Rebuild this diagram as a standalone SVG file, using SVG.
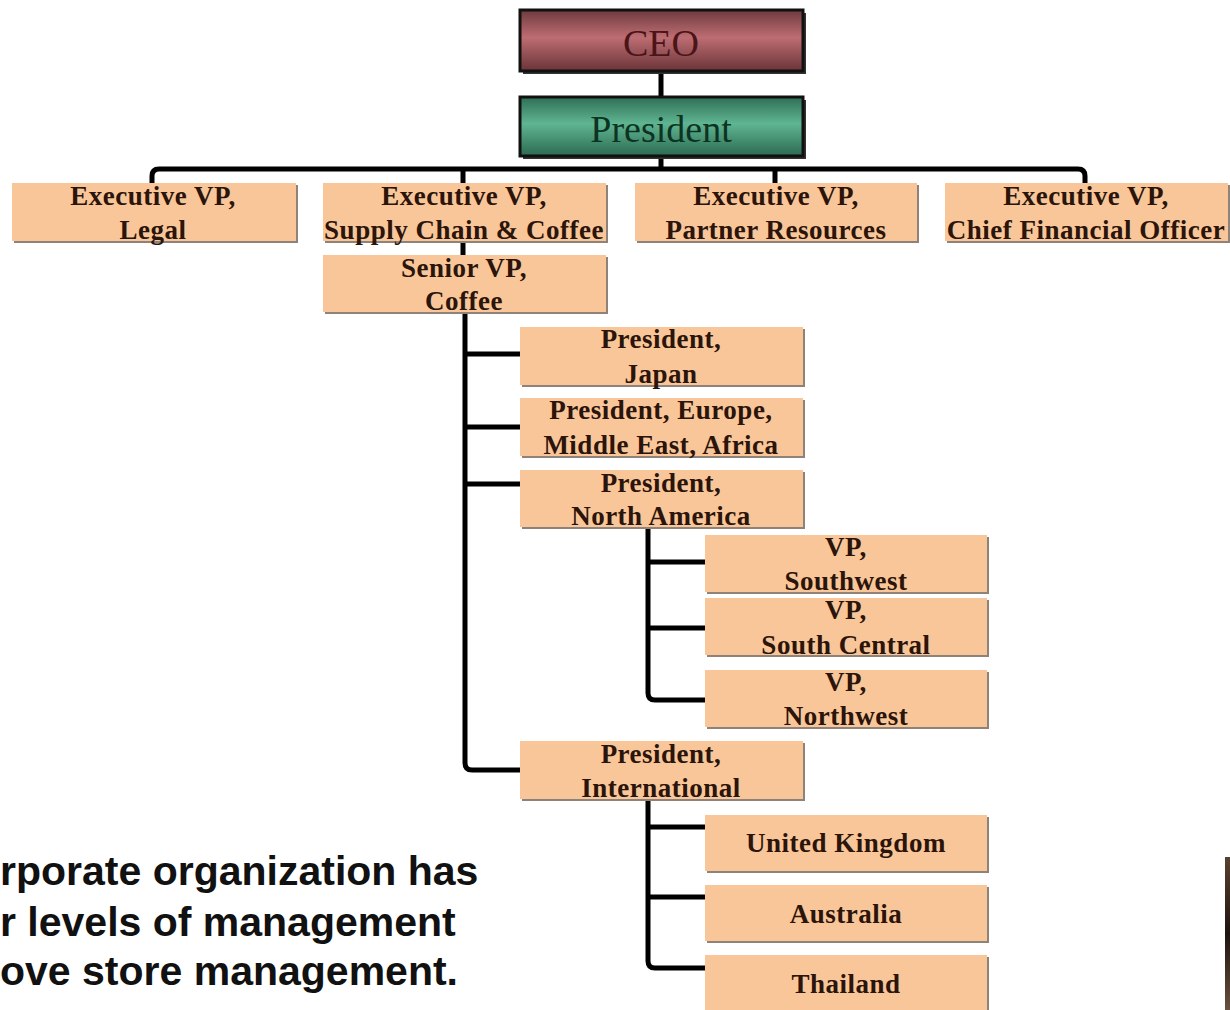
<svg xmlns="http://www.w3.org/2000/svg" width="1230" height="1010" viewBox="0 0 1230 1010">
  <defs>
    <linearGradient id="gradCeo" x1="0" y1="0" x2="0" y2="1">
      <stop offset="0" stop-color="#6e3a3e"/>
      <stop offset="0.45" stop-color="#bd6d72"/>
      <stop offset="1" stop-color="#6a3438"/>
    </linearGradient>
    <linearGradient id="gradPres" x1="0" y1="0" x2="0" y2="1">
      <stop offset="0" stop-color="#2f6e55"/>
      <stop offset="0.45" stop-color="#5fb592"/>
      <stop offset="1" stop-color="#2c6a51"/>
    </linearGradient>
    <linearGradient id="gradEdge" x1="0" y1="0" x2="0" y2="1">
      <stop offset="0" stop-color="#5a4030"/>
      <stop offset="0.5" stop-color="#1e140e"/>
      <stop offset="1" stop-color="#6a5040"/>
    </linearGradient>
  </defs>
  <style>
    .shadow { fill: #8f8279; }
    .box { fill: #f9c699; }
    .lbl { font-family: "Liberation Serif", "Times New Roman", serif; font-weight: bold; font-size: 27px; letter-spacing: 0.5px; fill: #2b1409; text-anchor: middle; }
    .top { font-family: "Liberation Serif", "Times New Roman", serif; font-size: 38px; text-anchor: middle; }
    .wire { fill: none; stroke: #000; stroke-width: 5; stroke-linejoin: round; }
    .note { font-family: "Liberation Sans", Arial, sans-serif; font-weight: bold; font-size: 41px; fill: #111; }
  </style>

  <rect width="1230" height="1010" fill="#ffffff"/>

  <!-- connectors -->
  <g id="connectors">
    <path class="wire" d="M661,71 V97"/>
    <path class="wire" d="M661,156 V169"/>
    <path class="wire" d="M152,184 V176 Q152,169 159,169 H1078 Q1085,169 1085,176 V184"/>
    <path class="wire" d="M463,169 V184"/>
    <path class="wire" d="M775,169 V184"/>
    <path class="wire" d="M463,241 V256"/>
    <path class="wire" d="M465,312 V763 Q465,770 472,770 H521"/>
    <path class="wire" d="M465,354 H521"/>
    <path class="wire" d="M465,427 H521"/>
    <path class="wire" d="M465,484 H521"/>
    <path class="wire" d="M648,527 V693 Q648,700 655,700 H706"/>
    <path class="wire" d="M648,562 H706"/>
    <path class="wire" d="M648,628 H706"/>
    <path class="wire" d="M648,799 V961 Q648,968 655,968 H706"/>
    <path class="wire" d="M648,827 H706"/>
    <path class="wire" d="M648,897 H706"/>
  </g>

  <!-- top of the chart -->
  <g id="ceo">
    <rect x="523" y="13" width="283" height="61" fill="#333"/>
    <rect x="520" y="10" width="283" height="61" fill="url(#gradCeo)" stroke="#111" stroke-width="3"/>
    <text class="top" x="661" y="56" fill="#4a1418">CEO</text>
  </g>
  <g id="president">
    <rect x="523" y="100" width="283" height="59" fill="#333"/>
    <rect x="520" y="97" width="283" height="59" fill="url(#gradPres)" stroke="#111" stroke-width="3"/>
    <text class="top" x="661" y="142" fill="#0d3322">President</text>
  </g>

  <!-- executive VPs -->
  <g id="evp-legal">
    <rect class="shadow" x="14" y="185" width="284" height="58"/>
    <rect class="box" x="12" y="183" width="284" height="58"/>
    <text class="lbl" x="153" y="205">Executive VP,</text>
    <text class="lbl" x="153" y="239">Legal</text>
  </g>
  <g id="evp-supply">
    <rect class="shadow" x="325" y="185" width="283" height="58"/>
    <rect class="box" x="323" y="183" width="283" height="58"/>
    <text class="lbl" x="464" y="205">Executive VP,</text>
    <text class="lbl" x="464" y="239">Supply Chain &amp; Coffee</text>
  </g>
  <g id="evp-partner">
    <rect class="shadow" x="637" y="185" width="282" height="58"/>
    <rect class="box" x="635" y="183" width="282" height="58"/>
    <text class="lbl" x="776" y="205">Executive VP,</text>
    <text class="lbl" x="776" y="239">Partner Resources</text>
  </g>
  <g id="evp-cfo">
    <rect class="shadow" x="947" y="185" width="283" height="58"/>
    <rect class="box" x="945" y="183" width="283" height="58"/>
    <text class="lbl" x="1086" y="205">Executive VP,</text>
    <text class="lbl" x="1086" y="239">Chief Financial Officer</text>
  </g>

  <g id="svp-coffee">
    <rect class="shadow" x="325" y="257" width="283" height="57"/>
    <rect class="box" x="323" y="255" width="283" height="57"/>
    <text class="lbl" x="464" y="277">Senior VP,</text>
    <text class="lbl" x="464" y="310">Coffee</text>
  </g>

  <!-- regional presidents -->
  <g id="pres-japan">
    <rect class="shadow" x="522" y="329" width="283" height="58"/>
    <rect class="box" x="520" y="327" width="283" height="58"/>
    <text class="lbl" x="661" y="348">President,</text>
    <text class="lbl" x="661" y="383">Japan</text>
  </g>
  <g id="pres-emea">
    <rect class="shadow" x="522" y="400" width="283" height="58"/>
    <rect class="box" x="520" y="398" width="283" height="58"/>
    <text class="lbl" x="661" y="419">President, Europe,</text>
    <text class="lbl" x="661" y="454">Middle East, Africa</text>
  </g>
  <g id="pres-na">
    <rect class="shadow" x="522" y="472" width="283" height="57"/>
    <rect class="box" x="520" y="470" width="283" height="57"/>
    <text class="lbl" x="661" y="492">President,</text>
    <text class="lbl" x="661" y="525">North America</text>
  </g>
  <g id="pres-intl">
    <rect class="shadow" x="522" y="743" width="283" height="58"/>
    <rect class="box" x="520" y="741" width="283" height="58"/>
    <text class="lbl" x="661" y="763">President,</text>
    <text class="lbl" x="661" y="797">International</text>
  </g>

  <!-- North America VPs -->
  <g id="vp-southwest">
    <rect class="shadow" x="707" y="537" width="282" height="57"/>
    <rect class="box" x="705" y="535" width="282" height="57"/>
    <text class="lbl" x="846" y="556">VP,</text>
    <text class="lbl" x="846" y="590">Southwest</text>
  </g>
  <g id="vp-southcentral">
    <rect class="shadow" x="707" y="600" width="282" height="57"/>
    <rect class="box" x="705" y="598" width="282" height="57"/>
    <text class="lbl" x="846" y="619">VP,</text>
    <text class="lbl" x="846" y="654">South Central</text>
  </g>
  <g id="vp-northwest">
    <rect class="shadow" x="707" y="672" width="282" height="57"/>
    <rect class="box" x="705" y="670" width="282" height="57"/>
    <text class="lbl" x="846" y="691">VP,</text>
    <text class="lbl" x="846" y="725">Northwest</text>
  </g>

  <!-- international countries -->
  <g id="country-uk">
    <rect class="shadow" x="707" y="817" width="282" height="56"/>
    <rect class="box" x="705" y="815" width="282" height="56"/>
    <text class="lbl" x="846" y="852">United Kingdom</text>
  </g>
  <g id="country-australia">
    <rect class="shadow" x="707" y="887" width="282" height="56"/>
    <rect class="box" x="705" y="885" width="282" height="56"/>
    <text class="lbl" x="846" y="923">Australia</text>
  </g>
  <g id="country-thailand">
    <rect class="shadow" x="707" y="957" width="282" height="60"/>
    <rect class="box" x="705" y="955" width="282" height="60"/>
    <text class="lbl" x="846" y="993">Thailand</text>
  </g>

  <!-- caption text running off the left edge -->
  <text class="note" x="0" y="885">rporate organization has</text>
  <text class="note" x="0" y="936">r levels of management</text>
  <text class="note" x="0" y="985">ove store management.</text>

  <!-- dark strip at the right edge -->
  <rect x="1225" y="857" width="5" height="153" fill="url(#gradEdge)"/>
</svg>
